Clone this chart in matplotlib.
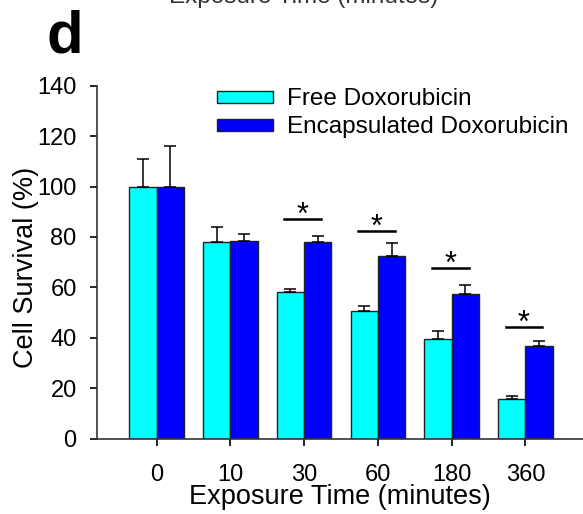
import numpy as np
import matplotlib
matplotlib.use('Agg')
import matplotlib.pyplot as plt

# data
times = ['0', '10', '30', '60', '180', '360']
free_dox = [100, 78, 58, 50.6, 39.7, 15.9]
free_err = [11, 6, 1.2, 2, 3, 1]
enc_dox = [100, 78.5, 78, 72.5, 57.5, 36.9]
enc_err = [16.2, 2.8, 2.5, 5, 3.6, 1.9]
sig_groups = [2, 3, 4, 5]
sig_heights = [87.2, 82.5, 67.7, 44.4]

plt.rcParams['font.family'] = ['Liberation Sans', 'DejaVu Sans']

fig = plt.figure(figsize=(5.83, 5.14), dpi=100)
ax = fig.add_axes([0.166, 0.1465, 0.834, 0.6868])

x = np.arange(len(times))
w = 0.37
err_kw = dict(ecolor='black', elinewidth=1.1, capsize=4, capthick=1.1)
ax.bar(x - w / 2, free_dox, w, yerr=[np.zeros(len(x)), free_err], color='#00FFFF',
       edgecolor='#222222', linewidth=1.0, error_kw=err_kw, label='Free Doxorubicin', zorder=2)
ax.bar(x + w / 2, enc_dox, w, yerr=[np.zeros(len(x)), enc_err], color='#0000FF',
       edgecolor='#222222', linewidth=1.0, error_kw=err_kw, label='Encapsulated Doxorubicin', zorder=2)

# significance markers
for g, h in zip(sig_groups, sig_heights):
    ax.plot([g - 0.27, g + 0.23], [h, h], color='black', linewidth=1.8)
    ax.text(g - 0.02, h - 2.0, '*', ha='center', va='baseline', fontsize=22)

ax.set_xlim(-0.81, 5.78)
ax.set_ylim(0, 140)
ax.set_yticks(range(0, 141, 20))
ax.set_xticks(x)
ax.set_xticklabels(times)

for s in ['top', 'right']:
    ax.spines[s].set_visible(False)
for s in ['left', 'bottom']:
    ax.spines[s].set_linewidth(1.2)
    ax.spines[s].set_color('#333333')
ax.tick_params(axis='y', direction='out', length=5, width=1.2, pad=9.5, labelsize=17)
ax.tick_params(axis='x', direction='out', length=5, width=1.2, pad=13, labelsize=17)

ax.set_xlabel('Exposure Time (minutes)', fontsize=19.5, labelpad=-1)
ax.set_ylabel('Cell Survival (%)', fontsize=19.5)
ax.yaxis.set_label_coords(-0.118, 0.485)

ax.legend(loc='upper left', bbox_to_anchor=(0.227, 1.02), frameon=False, fontsize=17.5,
          handlelength=2.3, handleheight=0.37, handletextpad=0.6, labelspacing=0.25,
          borderaxespad=0)

fig.text(0.08, 0.897, 'd', fontsize=43, fontweight='bold', ha='left', va='baseline')
fig.text(0.52, 1 - 3.5 / 514, 'Exposure Time (minutes)', fontsize=17.5, ha='center',
         va='baseline', color='#333333')

fig.savefig('out.png', dpi=100)
